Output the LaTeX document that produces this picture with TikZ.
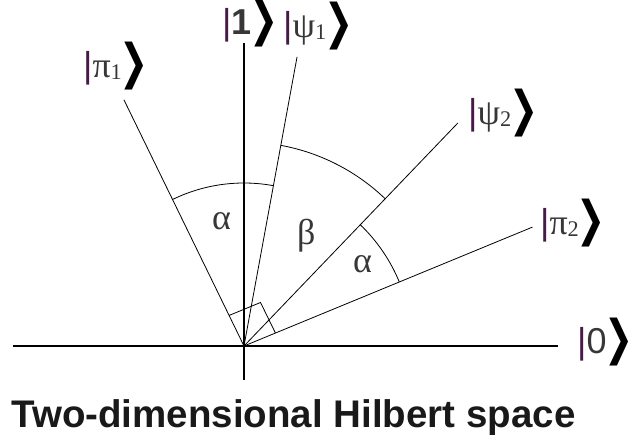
\documentclass[tikz,border=0pt]{standalone}
\usepackage{fontspec}
\setmainfont{Liberation Serif}
\setsansfont{Liberation Sans}
\newfontfamily\chevf{DejaVu Sans}
\usetikzlibrary{calc}
\definecolor{barc}{RGB}{70,25,70}
\definecolor{txtc}{RGB}{55,55,55}
\newcommand{\kbar}{{\color{barc}\sffamily|}}
\newcommand{\kend}{\kern-2pt\raisebox{-1pt}{\scalebox{0.72}[1]{\chevf\bfseries\color{black}\fontsize{48}{48}\selectfont ❯}}}
\newcommand{\sbs}[1]{\raisebox{-0.05em}{\scalebox{0.62}{#1}}}
\begin{document}
\begin{tikzpicture}[x=1pt,y=1pt,
  axis/.style={line width=1.2pt,black},
  ray/.style={line width=0.8pt,black},
  ketlbl/.style={inner sep=0pt,anchor=base west,font=\fontsize{36}{38}\selectfont,text=txtc},
  anglbl/.style={inner sep=0pt,anchor=base west,font=\fontsize{36}{38}\selectfont,text=txtc}]
\useasboundingbox (-244,-96) rectangle (385,346);
\coordinate (O) at (0,0);
\coordinate (xl) at (-231,0);
\coordinate (xr) at (314,0);
\coordinate (yb) at (0,-34);
\coordinate (yt) at (0,303);
\draw[axis] (xl) -- (xr);
\draw[axis] (yb) -- (yt);
\coordinate (ep1) at (116:274);
\coordinate (es1) at (79.6:294);
\coordinate (es2) at (46.2:309);
\coordinate (ep2) at (22.4:312);
\draw[ray] (O) -- (ep1);
\draw[ray] (O) -- (es1);
\draw[ray] (O) -- (es2);
\draw[ray] (O) -- (ep2);
% angle arcs
\draw[ray] (116:163pt) arc[start angle=116, end angle=79.6, radius=163pt];
\draw[ray] (79.6:204pt) arc[start angle=79.6, end angle=46.2, radius=204pt];
\draw[ray] (46.2:168pt) arc[start angle=46.2, end angle=22.4, radius=168pt];
% right angle mark
\coordinate (ra1) at (116:34);
\coordinate (ra2) at (22.4:34);
\coordinate (rac) at ($(ra1)+(ra2)$);
\draw[ray] (ra1) -- (rac) -- (ra2);
% angle labels
\node[anglbl] (a1) at (-32,116) {α};
\node[anglbl] (b1) at (53,101) {β};
\node[anglbl] (a2) at (109,73) {α};
% kets
\node[ketlbl] (kp1) at (-161,268) {\kbar π\sbs{1}\kend};
\node[ketlbl] (k1) at (-22,311) {\kbar{\sffamily\bfseries 1}\kend};
\node[ketlbl] (ks1) at (39,308) {\kbar ψ\sbs{1}\kend};
\node[ketlbl] (ks2) at (224,221) {\kbar ψ\sbs{2}\kend};
\node[ketlbl] (kp2) at (296,111) {\kbar π\sbs{2}\kend};
\node[ketlbl] (k0) at (333,-7) {\kbar{\sffamily 0}\kend};
% title
\node[inner sep=0pt,anchor=base,font=\sffamily\bfseries\fontsize{38.5}{40}\selectfont,text={rgb,255:red,25;green,25;blue,25}] (title) at (49.5,-81) {Two-dimensional Hilbert space};
\end{tikzpicture}
\end{document}
